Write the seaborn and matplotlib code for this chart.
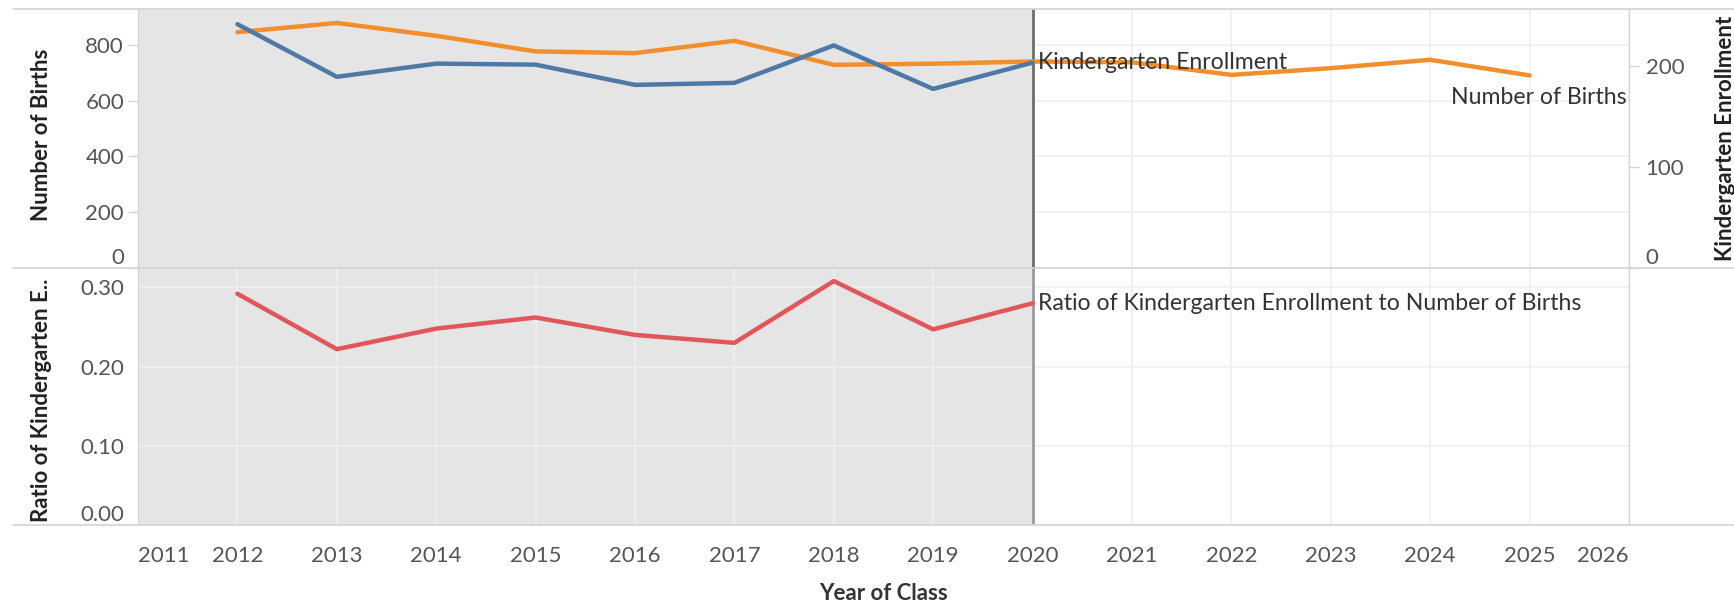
import matplotlib
matplotlib.use("Agg")
import matplotlib.pyplot as plt
import seaborn as sns
import pandas as pd
from matplotlib.lines import Line2D

# ---- data ----
birth_years = [2012, 2013, 2014, 2015, 2016, 2017, 2018, 2019, 2020, 2021, 2022, 2023, 2024, 2025]
births = [845, 878, 832, 776, 770, 814, 728, 732, 740, 737, 692, 716, 746, 690]
enroll_years = [2012, 2013, 2014, 2015, 2016, 2017, 2018, 2019, 2020]
enrollment = [241, 189, 202, 201, 181, 183, 220, 177, 203]
ratio = [0.292, 0.222, 0.248, 0.262, 0.240, 0.230, 0.308, 0.247, 0.280]
year_ticks = list(range(2011, 2027))
births_ticks = [0, 200, 400, 600, 800]
enroll_ticks = [0, 100, 200]
ratio_ticks = [0.0, 0.1, 0.2, 0.3]
ratio_tick_labels = ["0.00", "0.10", "0.20", "0.30"]

df_b = pd.DataFrame({"year": birth_years, "births": births})
df_k = pd.DataFrame({"year": enroll_years, "enrollment": enrollment, "ratio": ratio})

# ---- style ----
sns.set_style("white")
plt.rcParams["font.family"] = ["Lato", "DejaVu Sans"]

ORANGE = "#f28e2b"
BLUE = "#4e79a7"
RED = "#e15759"
SHADE = "#e5e5e5"
GRID = "#efefef"
BORDER = "#d3d3d3"
TICKC = "#555555"
TS = 16  # tick label size
AS = 16.6  # annotation size

W, H = 1734, 605
fig = plt.figure(figsize=(W / 100, H / 100), dpi=100)
L, R = 138, 1629
T, M, B = 9, 268, 525
ax1 = fig.add_axes([L / W, 1 - M / H, (R - L) / W, (M - T) / H])
ax2 = fig.add_axes([L / W, 1 - B / H, (R - L) / W, (B - M) / H])
ax1r = ax1.twinx()

for ax in (ax1, ax2):
    ax.set_xlim(2011, 2026)
    ax.set_xticks(year_ticks)
    ax.grid(True, color=GRID, lw=1.2)
    ax.set_axisbelow(True)
    for s in ("top", "bottom", "right"):
        ax.spines[s].set_visible(False)
    ax.spines["left"].set_color(BORDER)
    ax.spines["right"].set_visible(True)
    ax.spines["right"].set_color(BORDER)

# shading: above grid on top panel, below grid on bottom panel
ax1.axvspan(2011, 2020, color=SHADE, zorder=0.8, lw=0)
ax2.axvspan(2011, 2020, color=SHADE, zorder=0.2, lw=0)
ax1.axvline(2020, color="#6e6e6e", lw=2, zorder=3)
ax2.axvline(2020, color="#9a9a9a", lw=2, zorder=3)

# lines
sns.lineplot(data=df_b, x="year", y="births", ax=ax1, color=ORANGE, lw=3.2, zorder=4)
sns.lineplot(data=df_k, x="year", y="enrollment", ax=ax1r, color=BLUE, lw=3.2, zorder=4)
sns.lineplot(data=df_k, x="year", y="ratio", ax=ax2, color=RED, lw=3.2, zorder=4)

ax1.set_ylim(0, 928)
ax1r.set_ylim(0, 256)
ax2.set_ylim(0, 0.3245)
ax1r.set_xlim(2011, 2026)

ax1.set_yticks(births_ticks)
ax1r.set_yticks(enroll_ticks)
ax2.set_yticks(ratio_ticks)
ax2.set_yticklabels(ratio_tick_labels)

for ax in (ax1, ax1r, ax2):
    ax.set_xlabel("")
    ax.set_ylabel("")
ax1r.grid(False)
for s in ("top", "bottom", "left"):
    ax1r.spines[s].set_visible(False)
ax1r.spines["right"].set_color(BORDER)

ax1.tick_params(axis="x", length=0, labelbottom=False)
ax1r.tick_params(axis="x", length=0, labelbottom=False)
for ax in (ax1, ax2):
    ax.tick_params(axis="y", length=7, width=1, color=BORDER, labelcolor=TICKC, labelsize=TS, pad=3, right=False)
ax1r.tick_params(axis="y", length=7, width=1, color=BORDER, labelcolor=TICKC, labelsize=TS, pad=5)
ax2.tick_params(axis="x", length=7, width=1, color="#e0e0e0", labelcolor=TICKC, labelsize=TS, pad=8)

# edge label alignment like the reference
xl = ax2.get_xticklabels()
xl[0].set_ha("left")
xl[-1].set_ha("right")
for lab in (ax1.get_yticklabels()[0], ax1r.get_yticklabels()[0], ax2.get_yticklabels()[0]):
    lab.set_va("bottom")

# frame lines spanning the figure
for y in (T, M, B):
    fig.add_artist(Line2D([13 / W, 1], [1 - y / H, 1 - y / H], transform=fig.transFigure,
                          color=BORDER, lw=1.2))

# inline labels
ax1r.annotate("Kindergarten Enrollment", xy=(enroll_years[-1], enrollment[-1]), xytext=(4, 0),
              textcoords="offset points", ha="left", va="center", fontsize=AS, color="#333333", zorder=6)
ax1.annotate("Number of Births", xy=(birth_years[-1], births[-1]), xytext=(70, -16),
             textcoords="offset points", ha="right", va="center", fontsize=AS, color="#333333", zorder=6)
ax2.annotate("Ratio of Kindergarten Enrollment to Number of Births", xy=(enroll_years[-1], ratio[-1]),
             xytext=(4, 0), textcoords="offset points", ha="left", va="center", fontsize=AS,
             color="#333333", zorder=6)

# axis titles
fig.text(42 / W, 1 - 135 / H, "Number of Births", rotation=90, ha="center", va="center",
         fontsize=16, fontweight="bold", color="#222222")
fig.text(42 / W, 1 - 400 / H, "Ratio of Kindergarten E..", rotation=90, ha="center", va="center",
         fontsize=16, fontweight="bold", color="#222222")
fig.text(1726 / W, 1 - 138 / H, "Kindergarten Enrollment", rotation=90, ha="center", va="center",
         fontsize=16, fontweight="bold", color="#222222")
fig.text(883 / W, 1 - 594 / H, "Year of Class", ha="center", va="center",
         fontsize=16, fontweight="bold", color="#333333")

fig.savefig("out.png", dpi=100)
